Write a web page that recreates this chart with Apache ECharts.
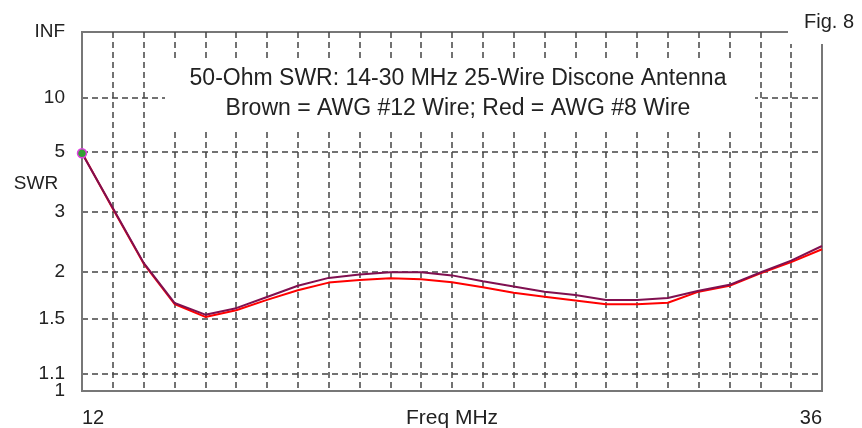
<!DOCTYPE html>
<html>
<head>
<meta charset="utf-8">
<script src="https://cdn.jsdelivr.net/npm/echarts@6/dist/echarts.min.js"></script>
<style>
  html, body { margin: 0; padding: 0; background: #fff; }
  #chart1 { width: 862px; height: 428px; }
</style>
</head>
<body>
<div id="chart1"></div>
<script>
// frequencies (MHz) and SWR
var freqs = [12, 13, 14, 15, 16, 17, 18, 19, 20, 21, 22, 23, 24, 25, 26, 27, 28, 29, 30, 31, 32, 33, 34, 35, 36];
var brownSwr = [4.92, 3.08, 2.11, 1.65, 1.54, 1.60, 1.71, 1.83, 1.92, 1.96, 1.99, 1.99, 1.95, 1.88, 1.82, 1.765, 1.73, 1.68, 1.68, 1.70, 1.775, 1.84, 1.985, 2.14, 2.355];
var redSwr = [4.95, 3.06, 2.10, 1.64, 1.52, 1.58, 1.68, 1.78, 1.865, 1.895, 1.915, 1.905, 1.868, 1.812, 1.754, 1.713, 1.675, 1.637, 1.637, 1.652, 1.765, 1.83, 1.975, 2.12, 2.305];
var swrTicks = [1, 1.1, 1.5, 2, 3, 5, 10, Infinity];
var swrTickLabels = ['1', '1.1', '1.5', '2', '3', '5', '10', 'INF'];

var FONT = 'Liberation Sans, Arial, sans-serif';

// SWR plotted on a reflection coefficient scale
function rho(s) {
  if (s === Infinity) return 1;
  return (s - 1) / (s + 1);
}

function toPoints(vals) {
  return vals.map(function (s, i) { return [freqs[i], rho(s)]; });
}

function swrLabel(v) {
  var best = 0;
  for (var i = 0; i < labelRhos.length; i++) {
    if (Math.abs(labelRhos[i] - v) < Math.abs(labelRhos[best] - v)) best = i;
  }
  return swrTickLabels[best];
}

var labelRhos = swrTicks.map(rho);
var gridRhos = swrTicks.slice(1, -1).map(rho);
// "1.1" sits right above "1", so it gets its own axis to avoid overlap hiding
var mainLabelRhos = labelRhos.filter(function (r, i) { return i !== 1; });

var myChart = echarts.init(document.getElementById('chart1'));

var brownData = toPoints(brownSwr);
brownData[0] = {
  value: brownData[0],
  symbol: 'circle',
  symbolSize: 9,
  itemStyle: { color: '#33a033', borderColor: '#e040e0', borderWidth: 1.5 }
};

var yLabelStyle = {
  showMinLabel: true,
  showMaxLabel: true,
  hideOverlap: false,
  margin: 17,
  fontFamily: FONT,
  fontSize: 19,
  color: '#222',
  formatter: swrLabel
};

option = {
  animation: false,
  backgroundColor: '#fff',
  grid: {
    left: 82, right: 40, top: 32, bottom: 37,
    outerBoundsMode: 'none',
    containLabel: false,
    show: true,
    borderColor: '#777',
    borderWidth: 2
  },
  xAxis: {
    type: 'value',
    min: 12,
    max: 36,
    interval: 1,
    name: 'Freq MHz',
    nameLocation: 'middle',
    nameGap: 17,
    nameMoveOverlap: false,
    nameTextStyle: { fontFamily: FONT, fontSize: 21, color: '#222' },
    axisLine: { show: true, lineStyle: { color: '#777', width: 2 } },
    axisTick: { show: false },
    axisLabel: {
      customValues: [12, 36],
      alignMinLabel: 'left',
      alignMaxLabel: 'right',
      margin: 17,
      fontFamily: FONT,
      fontSize: 20,
      color: '#222'
    },
    splitLine: {
      show: true,
      showMinLine: false,
      showMaxLine: false,
      lineStyle: { color: '#444', width: 1.5, type: [6, 4] }
    }
  },
  yAxis: [
    {
      type: 'value',
      min: 0,
      max: 1,
      axisLine: { show: true, lineStyle: { color: '#777', width: 2 } },
      axisTick: { show: false, customValues: gridRhos },
      axisLabel: Object.assign({ customValues: mainLabelRhos }, yLabelStyle),
      splitLine: {
        show: true,
        lineStyle: { color: '#444', width: 1.5, type: [6, 4] }
      }
    },
    {
      type: 'value',
      min: 0,
      max: 1,
      position: 'left',
      offset: 0,
      axisLine: { show: false },
      axisTick: { show: false },
      splitLine: { show: false },
      axisLabel: Object.assign({ customValues: [labelRhos[1]] }, yLabelStyle)
    }
  ],
  graphic: [
    {
      type: 'rect', z: 100,
      shape: { x: 165, y: 62, width: 590, height: 68 },
      style: { fill: '#fff' }
    },
    {
      type: 'text', z: 101, x: 458, y: 79,
      style: {
        text: '50-Ohm SWR: 14-30 MHz 25-Wire Discone Antenna',
        font: '23px ' + FONT, fill: '#222', align: 'center', verticalAlign: 'middle'
      }
    },
    {
      type: 'text', z: 101, x: 458, y: 109,
      style: {
        text: 'Brown = AWG #12 Wire; Red = AWG #8 Wire',
        font: '23px ' + FONT, fill: '#222', align: 'center', verticalAlign: 'middle'
      }
    },
    {
      type: 'rect', z: 100,
      shape: { x: 788, y: 0, width: 74, height: 44 },
      style: { fill: '#fff' }
    },
    {
      type: 'text', z: 101, x: 829, y: 22,
      style: {
        text: 'Fig. 8',
        font: '20px ' + FONT, fill: '#222', align: 'center', verticalAlign: 'middle'
      }
    },
    {
      type: 'text', z: 101, x: 36, y: 184,
      style: {
        text: 'SWR',
        font: '19px ' + FONT, fill: '#222', align: 'center', verticalAlign: 'middle'
      }
    }
  ],
  series: [
    {
      name: 'AWG #8',
      type: 'line',
      symbol: 'none',
      z: 3,
      lineStyle: { color: '#ff0000', width: 2 },
      data: toPoints(redSwr)
    },
    {
      name: 'AWG #12',
      type: 'line',
      symbol: 'none',
      z: 4,
      lineStyle: { color: '#801050', width: 2 },
      itemStyle: { color: '#801050' },
      data: brownData
    }
  ]
};
myChart.setOption(option);
</script>
</body>
</html>
